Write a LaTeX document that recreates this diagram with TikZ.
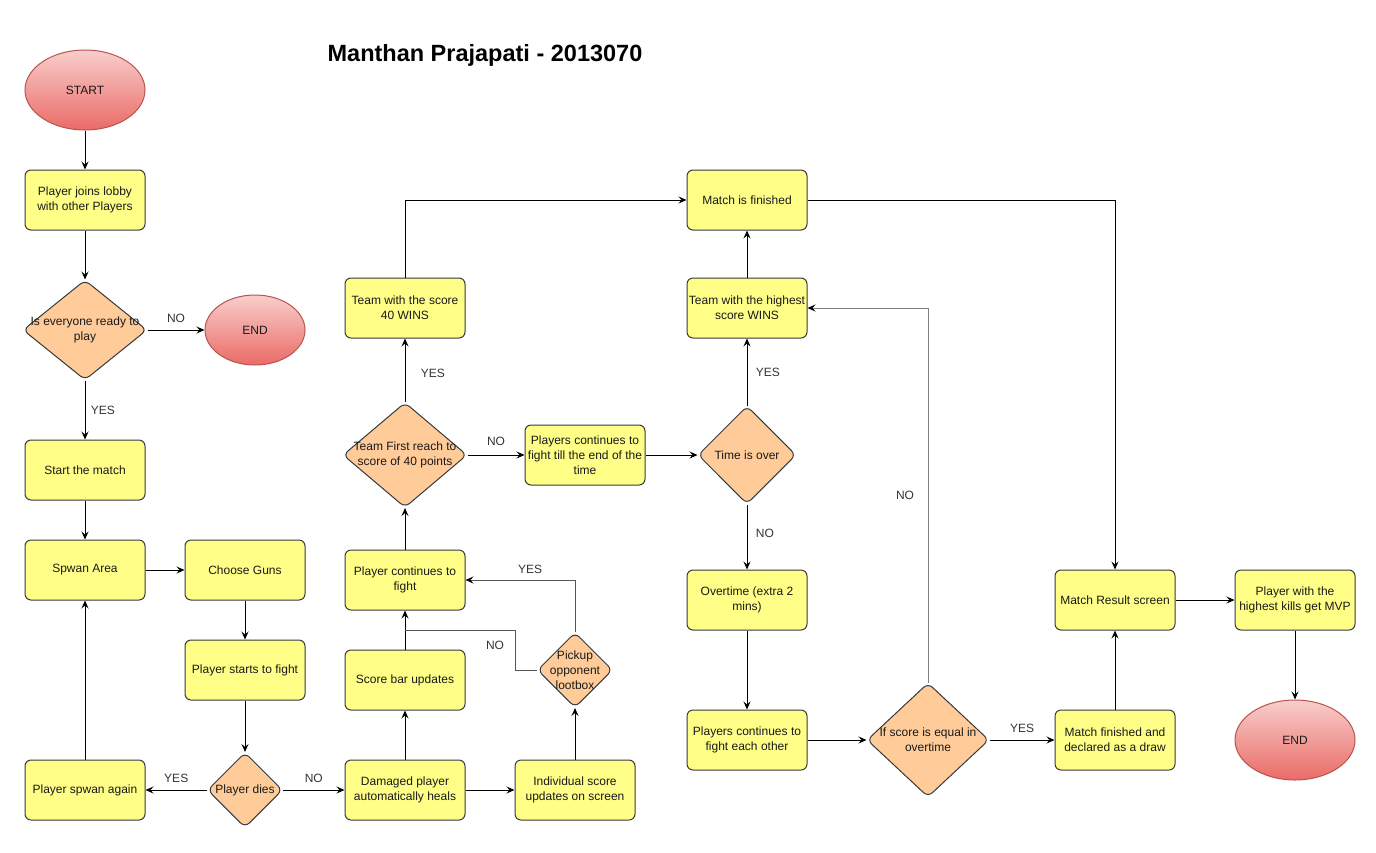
\documentclass[tikz,border=0pt]{standalone}
\usepackage{fontspec}
\setmainfont{Liberation Sans}
\usetikzlibrary{shapes.geometric,arrows.meta}
\definecolor{boxfill}{HTML}{FFFF88}
\definecolor{boxline}{HTML}{36393D}
\definecolor{diafill}{HTML}{FFCC99}
\definecolor{termtop}{HTML}{F8CECC}
\definecolor{termbot}{HTML}{EA6B66}
\definecolor{termline}{HTML}{B85450}
\definecolor{lblcol}{HTML}{333333}
\definecolor{graylink}{HTML}{808080}
\definecolor{darklink}{HTML}{555555}
\tikzset{
  x=1pt,y=-1pt,
  txt/.style={font=\fontsize{12}{15}\selectfont, align=center, text=black!90},
  box/.style={txt, rectangle, rounded corners=6pt, draw=boxline, fill=boxfill,
    line width=1pt, minimum width=120pt, minimum height=60pt, inner sep=1pt},
  dia/.style={diamond, draw=boxline, fill=diafill, line width=1pt,
    rounded corners=6pt, inner sep=0pt},
  term/.style={txt, ellipse, draw=termline, line width=1pt,
    top color=termtop, bottom color=termbot, inner sep=0pt},
  link/.style={line width=1pt, draw=black, -{Stealth[length=8pt,width=7pt,inset=3pt,color=black]}},
  plain/.style={line width=1pt},
  lbl/.style={font=\fontsize{12}{15}\selectfont, text=lblcol},
}
\begin{document}
\begin{tikzpicture}
\useasboundingbox (0,0) rectangle (1376,852);

% title
\node[font=\fontsize{23.5}{28}\selectfont\bfseries] (title) at (485,55) {Manthan Prajapati - 2013070};

% column 1
\node[term, minimum width=120pt, minimum height=80pt] (start) at (85,90) {START};
\node[box] (lobby) at (85,200) {Player joins lobby\\with other Players};
\node[dia, minimum width=124pt, minimum height=100pt,
  label={[txt]center:Is everyone ready to\\play}] (ready) at (85,330) {};
\node[term, minimum width=100pt, minimum height=70pt] (endA) at (255,330) {END};
\node[box] (startm) at (85,470) {Start the match};
\node[box] (spawn) at (85,570) {Spwan Area};
\node[box] (guns) at (245,570) {Choose Guns};
\node[box] (fight) at (245,670) {Player starts to fight};
\node[dia, minimum width=75pt, minimum height=75pt,
  label={[txt]center:Player dies}] (dies) at (245,790) {};
\node[box] (again) at (85,790) {Player spwan again};

% column 3/4
\node[box] (heal) at (405,790) {Damaged player\\automatically heals};
\node[box] (indiv) at (575,790) {Individual score\\updates on screen};
\node[box] (scorebar) at (405,680) {Score bar updates};
\node[dia, minimum width=75pt, minimum height=75pt,
  label={[txt]center:Pickup\\opponent\\lootbox}] (loot) at (575,670) {};
\node[box] (cont) at (405,580) {Player continues to\\fight};
\node[dia, minimum width=124pt, minimum height=105pt,
  label={[txt]center:Team First reach to\\score of 40 points}] (first) at (405,455) {};
\node[box] (win40) at (405,308) {Team with the score\\40 WINS};
\node[box] (contB) at (585,455) {Players continues to\\fight till the end of the\\time};

% column 5
\node[box] (finished) at (747,200) {Match is finished};
\node[box] (highest) at (747,308) {Team with the highest\\score WINS};
\node[dia, minimum width=98pt, minimum height=98pt,
  label={[txt]center:Time is over}] (timeover) at (747,455) {};
\node[box] (overtime) at (747,600) {Overtime (extra 2\\mins)};
\node[box] (contC) at (747,740) {Players continues to\\fight each other};
\node[dia, minimum width=122pt, minimum height=114pt,
  label={[txt]center:If score is equal in\\overtime}] (equal) at (928,740) {};

% column 6/7
\node[box] (draw) at (1115,740) {Match finished and\\declared as a draw};
\node[box] (result) at (1115,600) {Match Result screen};
\node[box] (mvp) at (1295,600) {Player with the\\highest kills get MVP};
\node[term, minimum width=120pt, minimum height=80pt] (endB) at (1295,740) {END};

% connectors
\draw[link] (start) -- (lobby);
\draw[link] (lobby) -- (ready);
\draw[link] (ready) -- (endA) node[lbl, midway, above=4pt] {NO};
\draw[link] (ready) -- (startm) node[lbl, pos=0.5, right=2pt] {YES};
\draw[link] (startm) -- (spawn);
\draw[link] (spawn) -- (guns);
\draw[link] (guns) -- (fight);
\draw[link] (fight) -- (dies);
\draw[link] (dies) -- (again) node[lbl, midway, above=4pt] {YES};
\draw[link] (again) -- (spawn);
\draw[link] (dies) -- (heal) node[lbl, midway, above=4pt] {NO};
\draw[link] (heal) -- (scorebar);
\draw[link] (heal) -- (indiv);
\draw[link] (indiv) -- (loot);
\draw[link] (scorebar) -- (cont);
\coordinate (lootYes) at (575,580);
\draw[link, draw=darklink] (loot.north) -- (lootYes) -- (cont.east);
\node[lbl] (yesLoot) at (530,569) {YES};
\coordinate (lootA) at (515,670);
\coordinate (lootB) at (515,630);
\coordinate (lootC) at (405,630);
\draw[plain, draw=darklink] (loot.west) -- (lootA) -- (lootB) -- (lootC);
\node[lbl] (noLoot) at (495,645) {NO};
\draw[link] (cont) -- (first);
\draw[link] (first) -- (win40) node[lbl, pos=0.45, right=12pt] {YES};
\coordinate (c40) at (405,200);
\draw[link] (win40.north) -- (c40) -- (finished.west);
\draw[link] (first) -- (contB) node[lbl, midway, above=6pt] {NO};
\draw[link] (contB) -- (timeover);
\draw[link] (timeover) -- (highest) node[lbl, midway, right=5pt] {YES};
\draw[link] (highest) -- (finished);
\draw[link] (timeover) -- (overtime) node[lbl, pos=0.45, right=5pt] {NO};
\draw[link] (overtime) -- (contC);
\draw[link] (contC) -- (equal);
\coordinate (eqUp) at (928,308);
\draw[link, draw=graylink] (equal.north) -- (eqUp) -- (highest.east);
\node[lbl] (noEq) at (905,495) {NO};
\draw[link] (equal) -- (draw) node[lbl, midway, above=4pt] {YES};
\draw[link] (draw) -- (result);
\coordinate (finR) at (1115,200);
\draw[link] (finished.east) -- (finR) -- (result.north);
\draw[link] (result) -- (mvp);
\draw[link] (mvp) -- (endB);
\end{tikzpicture}
\end{document}
